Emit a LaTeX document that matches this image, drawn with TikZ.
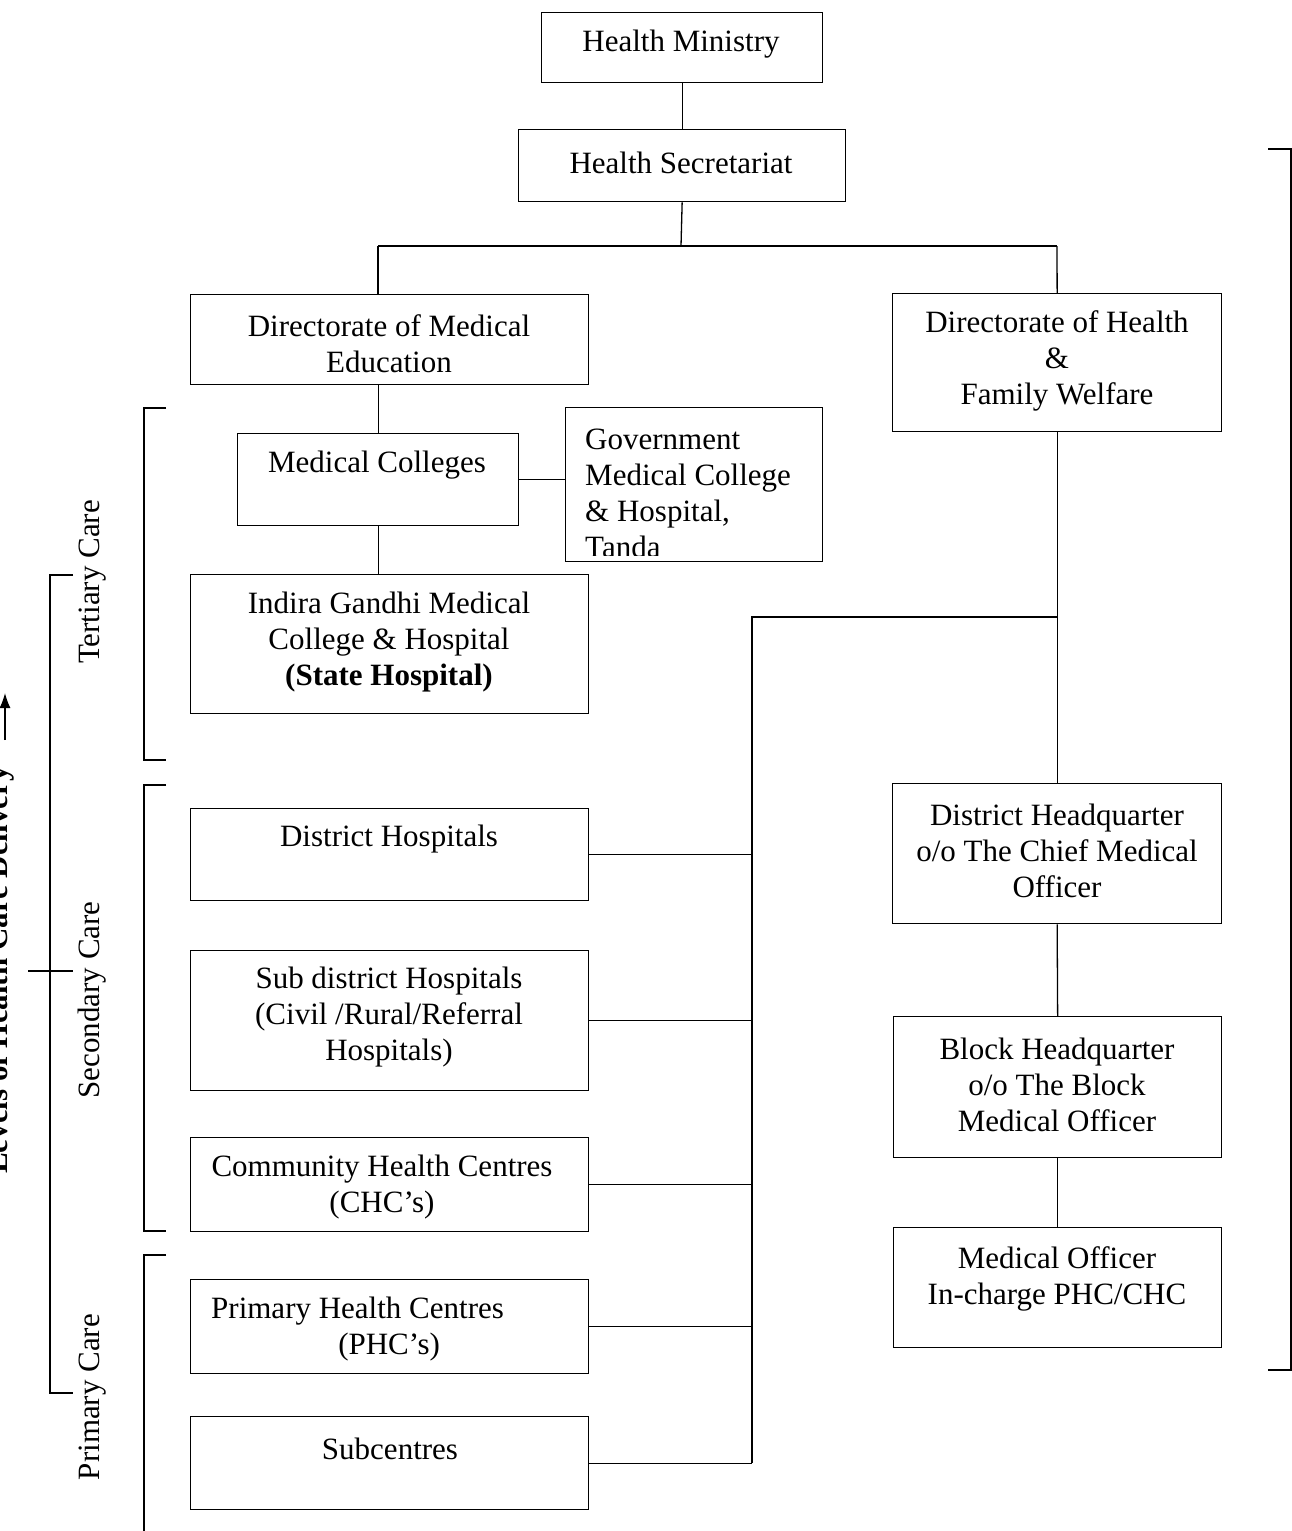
\documentclass[tikz,border=0pt]{standalone}
\usepackage{fontspec}
\setmainfont{Liberation Serif}
\usetikzlibrary{arrows.meta}
\begin{document}
\begin{tikzpicture}[x=1pt,y=-1pt,
  box/.style={draw, line width=1.3pt, inner sep=0pt, anchor=north west},
  txt/.style={inner sep=0pt, align=center, yshift=-2.5pt, font=\fontsize{31}{36}\selectfont},
  lvl/.style={inner sep=0pt, rotate=90, anchor=base, font=\fontsize{31}{36}\selectfont},
  conn/.style={line width=1.3pt},
  brk/.style={line width=1.3pt}]
\useasboundingbox (0,0) rectangle (1292,1531);
% boxes
\node[box, minimum width=281, minimum height=70]  (hm)   at (541,12)   {};
\node[box, minimum width=327, minimum height=72]  (hs)   at (518,129)  {};
\node[box, minimum width=398, minimum height=90]  (dme)  at (190,294)  {};
\node[box, minimum width=329, minimum height=138] (dhfw) at (892,293)  {};
\node[box, minimum width=281, minimum height=92]  (mc)   at (237,433)  {};
\node[box, minimum width=257, minimum height=154] (gmc)  at (565,407)  {};
\node[box, minimum width=398, minimum height=139] (ig)   at (190,574)  {};
\node[box, minimum width=398, minimum height=92]  (dh)   at (190,808)  {};
\node[box, minimum width=398, minimum height=140] (sdh)  at (190,950)  {};
\node[box, minimum width=398, minimum height=94]  (chc)  at (190,1137) {};
\node[box, minimum width=398, minimum height=94]  (phc)  at (190,1279) {};
\node[box, minimum width=398, minimum height=93]  (sc)   at (190,1416) {};
\node[box, minimum width=329, minimum height=140] (dhq)  at (892,783)  {};
\node[box, minimum width=328, minimum height=141] (bhq)  at (893,1016) {};
\node[box, minimum width=328, minimum height=120] (mo)   at (893,1227) {};
% texts
\node[txt] (hmt)   at (681,42)   {Health Ministry};
\node[txt] (hst)   at (681,160)  {Health Secretariat};
\node[txt] (dmet)  at (389,341)  {Directorate of Medical\\Education};
\node[txt] (dhfwt) at (1057,358) {Directorate of Health\\\&\\Family Welfare};
\node[txt] (mct)   at (377,463)  {Medical Colleges};
\begin{scope}
\clip (565,407) rectangle (822,555);
\node[txt, align=left, anchor=west] (gmct) at (585,491) {Government\\Medical College\\\& Hospital,\\Tanda};
\end{scope}
\node[txt] (igt)   at (389,640)  {Indira Gandhi Medical\\College \& Hospital\\\textbf{(State Hospital)}};
\node[txt] (dht)   at (389,837)  {District Hospitals};
\node[txt] (sdht)  at (389,1015) {Sub district Hospitals\\(Civil /Rural/Referral\\Hospitals)};
\node[txt] (chct)  at (382,1185) {Community Health Centres\\(CHC’s)};
\node[txt, align=left, anchor=west] (phct) at (211,1327) {Primary Health Centres\\\hspace*{4.1em}(PHC’s)};
\node[txt] (sct)   at (390,1446) {Subcentres};
\node[txt] (dhqt)  at (1057,848) {District Headquarter\\o/o The Chief Medical\\Officer};
\node[txt] (bhqt)  at (1057,1082) {Block Headquarter\\o/o The Block\\Medical Officer};
\node[txt] (mot)   at (1057,1276) {Medical Officer\\In-charge PHC/CHC};
% connectors
\coordinate (j1) at (681,246);
\coordinate (jl) at (378,246);
\coordinate (jr) at (1057,246);
\draw[conn] (hm.south) -- (hs.north);
\draw[conn] (hs.south) -- (j1);
\draw[conn] (jl) -- (jr);
\draw[conn] (jl) -- (jl |- dme.north);
\draw[conn] (jr) -- (dhfw.north);
\draw[conn] (mc.north) -- (mc.north |- dme.south);
\draw[conn] (mc.south) -- (mc.south |- ig.north);
\draw[conn] (mc.east) -- (gmc.west |- mc.east);
\draw[conn] (dhfw.south) -- (dhq.north);
\draw[conn] (dhq.south) -- (bhq.north);
\draw[conn] (bhq.south) -- (mo.north);
\coordinate (b1) at (1057,617);
\coordinate (b2) at (752,617);
\draw[conn] (b1) -- (b2) -- (b2 |- sc.east);
\draw[conn] (dh.east) -- (b2 |- dh.east);
\draw[conn] (sdh.east) -- (b2 |- sdh.east);
\draw[conn] (chc.east) -- (b2 |- chc.east);
\draw[conn] (phc.east) -- (b2 |- phc.east);
\draw[conn] (sc.east) -- (b2 |- sc.east);
% brackets
\draw[brk] (1268,149) -- (1291,149) -- (1291,1370) -- (1268,1370);
\draw[brk] (166,408) -- (144,408) -- (144,760) -- (166,760);
\draw[brk] (166,785) -- (144,785) -- (144,1231) -- (166,1231);
\draw[brk] (166,1255) -- (144,1255) -- (144,1535);
\draw[brk] (73,575) -- (50,575) -- (50,1393) -- (73,1393);
\draw[brk] (28,971) -- (73,971);
% level labels
\node[lvl] (tert) at (99,582)  {Tertiary Care};
\node[lvl] (seco) at (99,1000) {Secondary Care};
\node[lvl] (prim) at (99,1397) {Primary Care};
\node[lvl, font=\fontsize{31}{36}\selectfont\bfseries] (lev) at (8,970) {Levels of Health Care Delivery};
\coordinate (a1) at (5,740);
\coordinate (a2) at (5,693);
\draw[conn, -{Latex[length=15pt,width=11pt]}] (a1) -- (a2);
\end{tikzpicture}
\end{document}
